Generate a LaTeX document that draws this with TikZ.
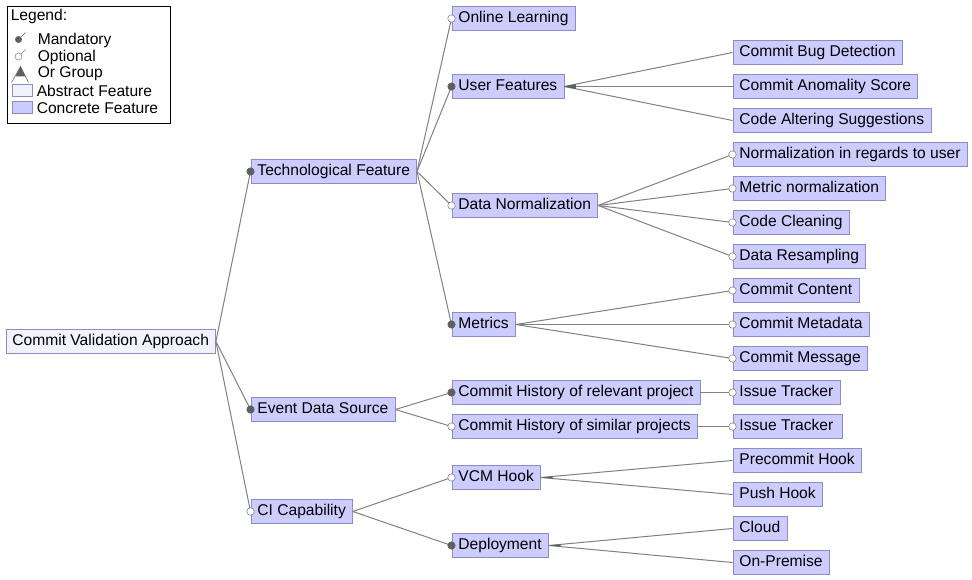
\documentclass[tikz,border=0pt]{standalone}
\usepackage{fontspec}
\setmainfont{Liberation Sans}
\usetikzlibrary{calc}
\definecolor{featfill}{RGB}{204,204,255}
\definecolor{featline}{RGB}{140,140,200}
\definecolor{absfill}{RGB}{242,242,255}
\definecolor{edgegray}{RGB}{128,128,128}
\definecolor{markgray}{RGB}{95,95,95}
\begin{document}
\begin{tikzpicture}[x=0.75pt,y=-0.75pt,
  font=\fontsize{11.7pt}{14pt}\selectfont,
  concrete/.style={draw=featline, fill=featfill, anchor=west, inner xsep=5pt, inner ysep=0pt, minimum height=18pt, text height=8.5pt, text depth=2.5pt},
  abstract/.style={concrete, fill=absfill},
  edge/.style={draw=edgegray, line width=0.75pt},
  mand/.style={fill=markgray, draw=markgray},
  opt/.style={fill=white, draw=edgegray},
  legtext/.style={anchor=west, inner sep=0pt}]
\useasboundingbox (0,0) rectangle (972,580);
\begin{scope}[shift={(0.5,0.5)}]
\node[abstract] (r) at (5,341) {Commit Validation Approach};
\node[concrete] (tf) at (250,171) {Technological Feature};
\node[concrete] (eds) at (250,409) {Event Data Source};
\node[concrete] (ci) at (250,511) {CI Capability};

\node[concrete] (ol) at (451,18) {Online Learning};
\node[concrete] (uf) at (451,86) {User Features};
\node[concrete] (dn) at (451,205) {Data Normalization};
\node[concrete] (met) at (451,324) {Metrics};
\node[concrete] (chr) at (451,392) {Commit History of relevant project};
\node[concrete] (chs) at (451,426) {Commit History of similar projects};
\node[concrete] (vcm) at (451,477) {VCM Hook};
\node[concrete] (dep) at (451,545) {Deployment};

\node[concrete] (cbd) at (732,52) {Commit Bug Detection};
\node[concrete] (cas) at (732,86) {Commit Anomality Score};
\node[concrete] (cal) at (732,120) {Code Altering Suggestions};
\node[concrete] (nru) at (732,154) {Normalization in regards to user};
\node[concrete] (mn) at (732,188) {Metric normalization};
\node[concrete] (cc) at (732,222) {Code Cleaning};
\node[concrete] (dr) at (732,256) {Data Resampling};
\node[concrete] (cco) at (732,290) {Commit Content};
\node[concrete] (cme) at (732,324) {Commit Metadata};
\node[concrete] (cms) at (732,358) {Commit Message};
\node[concrete] (it1) at (732,392) {Issue Tracker};
\node[concrete] (it2) at (732,426) {Issue Tracker\,};
\node[concrete] (pch) at (732,460) {Precommit Hook};
\node[concrete] (ph) at (732,494) {Push Hook};
\node[concrete] (cl) at (732,528) {Cloud};
\node[concrete] (op) at (732,562) {On-Premise};

\foreach \a/\b in {r/tf, r/eds, r/ci, tf/ol, tf/uf, tf/dn, tf/met, eds/chr, eds/chs, ci/vcm, ci/dep,
    uf/cbd, uf/cas, uf/cal, dn/nru, dn/mn, dn/cc, dn/dr, met/cco, met/cme, met/cms,
    chr/it1, chs/it2, vcm/pch, vcm/ph, dep/cl, dep/op}
  \path[edge] (\a.east) -- (\b.west);

\foreach \b in {tf, eds, uf, met, chr, dep}
  \path[mand] (\b.west) circle (2.8pt);
\foreach \b in {ci, ol, dn, chs, vcm, nru, mn, cc, dr, cco, cme, cms, it1, it2}
  \path[opt] (\b.west) circle (2.8pt);

\foreach \p/\f/\l in {uf/cbd/cal, vcm/pch/ph, dep/cl/op}
  \fill[markgray] (\p.east) -- ($(\p.east)!9pt!(\f.west)$) -- ($(\p.east)!9pt!(\l.west)$) -- cycle;

\node[draw=black, fill=white, anchor=north west, minimum width=122.25pt, minimum height=87.75pt, inner sep=0pt, line width=0.75pt] (leg) at (6,6) {};
\node[legtext] (lgt) at (10,16) {Legend:};
\draw[markgray] (18,39) -- (25,32);
\fill[markgray] (18,39) circle (2.6pt);
\node[legtext] (lgm) at (37,39.5) {Mandatory};
\draw[edgegray] (18,56) -- (25,49);
\draw[edgegray, fill=white] (18,56) circle (2.6pt);
\node[legtext] (lgo) at (37,56.5) {Optional};
\draw[markgray] (11,82) -- (20,66) -- (28,82);
\fill[markgray] (20,66) -- (15,76) -- (25,76) -- cycle;
\node[legtext] (lgg) at (37,73.5) {Or Group};
\draw[featline, fill=absfill] (12,84) rectangle (32,96);
\node[legtext] (lga) at (36,90.5) {Abstract Feature};
\draw[featline, fill=featfill] (12,101) rectangle (32,113);
\node[legtext] (lgc) at (36,107.5) {Concrete Feature};
\end{scope}
\end{tikzpicture}
\end{document}
